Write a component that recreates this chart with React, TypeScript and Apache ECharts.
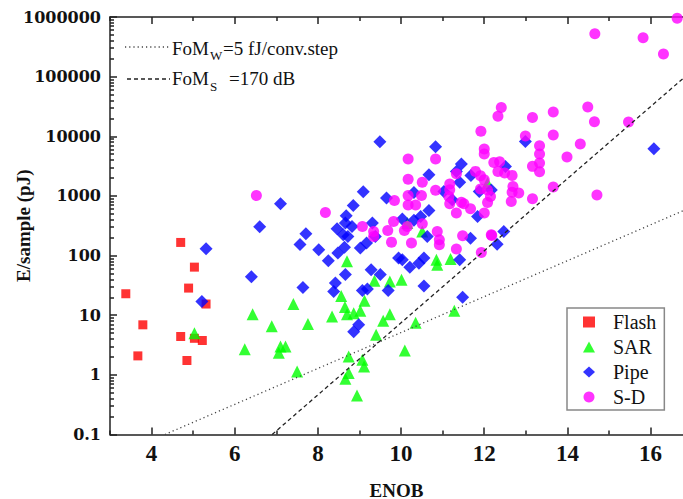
import React, { useEffect, useRef } from "react";
import * as echarts from "echarts";

// ENOB, E/sample (pJ)
const flashData: number[][] = [
  [3.38, 22.9], [3.79, 6.9], [3.67, 2.08], [4.7, 166], [5.03, 64], [4.89, 28.5],
  [5.31, 15.4], [4.7, 4.4], [5.03, 4.1], [5.22, 3.77], [4.85, 1.74],
];

const sarData: number[][] = [
  [5.03, 5.0], [6.43, 10.4], [6.89, 6.5], [6.24, 2.7], [7.06, 2.35], [7.1, 3.0], [7.22, 3.0],
  [7.5, 1.14], [7.41, 15.4], [7.76, 7.1], [8.34, 9.5], [8.56, 21], [8.65, 13.7], [8.7, 10.4],
  [8.86, 10.8], [9.02, 11.9], [9.12, 17.5], [9.36, 37.8], [9.73, 36.7], [10.01, 39.3],
  [9.57, 8.1], [9.73, 10.4], [9.4, 4.7], [10.35, 7.5], [10.09, 2.56], [8.74, 2.03],
  [9.07, 1.79], [9.11, 1.38], [8.74, 1.07], [8.66, 0.86], [8.94, 0.45], [8.7, 80],
  [10.85, 85], [10.87, 70], [11.19, 88], [11.28, 11.9], [10.51, 254], [10.15, 351], [12.08, 1650],
];

const pipeData: number[][] = [
  [5.31, 130], [5.21, 17], [6.4, 44], [6.6, 305], [7.1, 740], [7.71, 232], [7.57, 153],
  [8.02, 125], [8.25, 82], [7.64, 29.2], [8.42, 34.6], [8.38, 25], [8.66, 48],
  [9.49, 8100], [10.83, 6700], [9.09, 1175], [8.85, 692], [8.68, 465], [8.46, 281],
  [8.66, 351], [8.82, 308], [8.61, 223], [8.72, 209], [8.48, 110], [8.64, 138], [9.02, 134],
  [9.17, 162], [9.31, 351], [9.38, 209], [9.65, 922], [10.03, 409], [10.31, 1140],
  [10.67, 2270], [10.67, 571], [10.47, 453], [10.31, 390], [10.63, 209], [11.03, 1190],
  [9.28, 58], [9.5, 48], [9.94, 91], [10.03, 85], [10.21, 64], [10.43, 74], [10.55, 91],
  [9.07, 26], [9.19, 27.4], [9.69, 26], [8.98, 6.9], [8.86, 5.3], [10.55, 31], [11.41, 85],
  [11.67, 196], [11.84, 453], [12.31, 155], [11.48, 20], [16.08, 6200], [12.99, 8200],
  [11.45, 3430], [11.33, 2580], [11.41, 1690], [12.51, 3120], [11.68, 2210], [11.23, 864],
  [11.88, 1190], [12.17, 1260], [12.47, 254],
];

const sdData: number[][] = [
  [14.66, 525000], [15.82, 447000], [16.31, 240000], [16.64, 950000],
  [15.47, 17400], [14.49, 31000], [14.65, 17600], [13.66, 25600], [13.66, 10500],
  [14.31, 7430], [13.99, 4490], [14.71, 1035],
  [13.16, 20700], [12.99, 10100], [13.33, 6950], [13.33, 5040], [13.33, 3550],
  [13.16, 3130], [13.33, 2550], [13.66, 1410], [13.16, 898],
  [12.41, 30500], [12.33, 21600], [11.92, 12100], [12.0, 6120], [12.0, 5040],
  [12.23, 3650], [12.37, 3750], [12.33, 2580], [12.49, 2420], [12.67, 2210],
  [12.69, 1440], [12.67, 1150], [12.83, 1120], [12.65, 809], [12.18, 217],
  [11.79, 2580], [11.91, 2180], [12.0, 1870], [11.91, 1310], [12.08, 1260],
  [12.15, 980], [12.08, 779], [12.0, 517],
  [11.17, 1590], [11.17, 1270], [11.15, 980], [11.17, 740], [11.33, 2360],
  [11.45, 780], [11.51, 740], [11.67, 610], [11.33, 517],
  [11.33, 129], [11.48, 215], [11.93, 113], [12.17, 223],
  [6.52, 1020], [8.18, 529], [9.07, 308], [9.34, 254], [9.34, 209], [9.77, 168],
  [9.68, 264], [9.82, 373], [9.84, 841], [10.08, 264], [10.15, 308], [10.17, 4170],
  [10.17, 1900], [10.17, 1020], [10.17, 705], [10.35, 705], [10.49, 1020], [10.51, 1700],
  [10.83, 4170], [10.83, 1240], [10.51, 342], [10.25, 162], [10.87, 254], [10.92, 184],
  [10.92, 152],
];

// Figure-of-merit reference lines (end points)
const fomWLine: number[][] = [[4.32, 0.1], [16.78, 563]];
const fomSLine: number[][] = [[6.9, 0.1], [16.78, 93000]];

const seriesNames = ["Flash", "SAR", "Pipe", "S-D"];
const xMajorTicks = [4, 6, 8, 10, 12, 14, 16];
const xMinorTicks = [3, 5, 7, 9, 11, 13, 15];
const yDecadeExps = [-1, 0, 1, 2, 3, 4, 5];
const yMinorMultipliers = [2, 3, 4, 5, 6, 7, 8, 9];

const X_MIN = 3;
const X_MAX = 16.78;
const AXIS_COLOR = "#222";
const SERIF = "Liberation Serif";

const yMinorTickPositions = yDecadeExps.flatMap((d) =>
  yMinorMultipliers.map((m) => d + Math.log10(m))
);

export default function App() {
  const ref = useRef<HTMLDivElement>(null);

  useEffect(() => {
    if (!ref.current) return;
    const chart = echarts.init(ref.current, undefined, { renderer: "svg" });

    const lineStyle = { color: AXIS_COLOR, width: 1.5 };
    const baseX = {
      type: "value" as const,
      min: X_MIN,
      max: X_MAX,
      splitLine: { show: false },
    };

    const option: any = {
      animation: false,
      backgroundColor: "#ffffff",
      grid: { left: 110, right: 0, top: 17, bottom: 64.5, containLabel: false, outerBoundsMode: "none" },
      legend: {
        data: seriesNames,
        orient: "vertical",
        left: 567,
        top: 308,
        itemWidth: 12,
        itemHeight: 11,
        itemGap: 5,
        symbolKeepAspect: true,
        padding: [4, 8, 3, 16],
        borderColor: "#888",
        borderWidth: 1.5,
        backgroundColor: "#fff",
        selectedMode: false,
        textStyle: { fontFamily: SERIF, fontSize: 20, color: "#111", lineHeight: 20, padding: [0, 0, 0, 13] },
      },
      xAxis: [
        {
          ...baseX,
          position: "bottom",
          axisLine: { show: true, onZero: false, lineStyle },
          axisTick: { show: true, inside: true, length: 7, customValues: xMajorTicks, lineStyle },
          axisLabel: {
            customValues: xMajorTicks,
            fontFamily: SERIF,
            fontWeight: "bold",
            fontSize: 23,
            color: "#111",
            margin: 7,
          },
          name: "ENOB",
          nameLocation: "middle",
          nameGap: 46,
          nameMoveOverlap: false,
          nameTextStyle: { fontFamily: SERIF, fontWeight: "bold", fontSize: 19, color: "#111" },
        },
        {
          ...baseX,
          position: "bottom",
          axisLine: { show: false, onZero: false },
          axisTick: { show: true, inside: true, length: 4, customValues: xMinorTicks, lineStyle },
          axisLabel: { show: false },
        },
        {
          ...baseX,
          position: "top",
          axisLine: { show: true, onZero: false, lineStyle },
          axisTick: { show: true, inside: true, length: 7, customValues: xMajorTicks, lineStyle },
          axisLabel: { show: false },
        },
        {
          ...baseX,
          position: "top",
          axisLine: { show: false, onZero: false },
          axisTick: { show: true, inside: true, length: 4, customValues: xMinorTicks, lineStyle },
          axisLabel: { show: false },
        },
      ],
      yAxis: [
        {
          type: "log",
          logBase: 10,
          min: 0.1,
          max: 1000000,
          splitNumber: 7,
          position: "left",
          splitLine: { show: false },
          axisLine: { show: true, onZero: false, lineStyle },
          axisTick: { show: true, inside: true, length: 7, lineStyle },
          axisLabel: {
            fontFamily: "DejaVu Serif",
            fontWeight: "bold",
            fontSize: 16,
            color: "#111",
            margin: 9,
            formatter: (v: number) => String(Number(v.toPrecision(6))),
          },
          name: "E/sample (pJ)",
          nameLocation: "middle",
          nameGap: 77,
          nameMoveOverlap: false,
          nameTextStyle: { fontFamily: SERIF, fontWeight: "bold", fontSize: 19, color: "#111" },
        },
        {
          type: "value",
          min: -1,
          max: 6,
          position: "left",
          splitLine: { show: false },
          axisLine: { show: false, onZero: false },
          axisTick: { show: true, inside: true, length: 4, customValues: yMinorTickPositions, lineStyle },
          axisLabel: { show: false },
        },
      ],
      graphic: [
        {
          type: "line",
          shape: { x1: 125, y1: 47, x2: 170, y2: 47 },
          style: { stroke: "#444", lineWidth: 1.3, lineDash: [1.2, 3] },
        },
        { type: "text", x: 172, y: 48, style: { text: "FoM", fontSize: 19, fontFamily: SERIF, fill: "#111", verticalAlign: "middle" } },
        { type: "text", x: 210, y: 55, style: { text: "W", fontSize: 13, fontFamily: SERIF, fill: "#111", verticalAlign: "middle" } },
        { type: "text", x: 223, y: 48, style: { text: "=5 fJ/conv.step", fontSize: 19, fontFamily: SERIF, fill: "#111", verticalAlign: "middle" } },
        {
          type: "line",
          shape: { x1: 127, y1: 79, x2: 170, y2: 79 },
          style: { stroke: "#222", lineWidth: 1.3, lineDash: [4, 3] },
        },
        { type: "text", x: 172, y: 78, style: { text: "FoM", fontSize: 19, fontFamily: SERIF, fill: "#111", verticalAlign: "middle" } },
        { type: "text", x: 210, y: 86, style: { text: "S", fontSize: 13, fontFamily: SERIF, fill: "#111", verticalAlign: "middle" } },
        { type: "text", x: 229, y: 78, style: { text: "=170 dB", fontSize: 19, fontFamily: SERIF, fill: "#111", verticalAlign: "middle" } },
      ],
      series: [
        {
          name: "FoMW",
          type: "line",
          data: fomWLine,
          symbol: "none",
          silent: true,
          lineStyle: { color: "#444", width: 1.3, type: [1.2, 3] },
        },
        {
          name: "FoMS",
          type: "line",
          data: fomSLine,
          symbol: "none",
          silent: true,
          lineStyle: { color: "#222", width: 1.3, type: [4, 3] },
        },
        {
          name: "Flash",
          type: "scatter",
          data: flashData,
          symbol: "rect",
          symbolSize: 9,
          symbolKeepAspect: true,
          itemStyle: { color: "#ff0000" },
        },
        {
          name: "SAR",
          type: "scatter",
          data: sarData,
          symbol: "triangle",
          symbolSize: 12,
          symbolKeepAspect: true,
          itemStyle: { color: "#00ff00" },
        },
        {
          name: "Pipe",
          type: "scatter",
          data: pipeData,
          symbol: "diamond",
          symbolSize: 13,
          symbolKeepAspect: true,
          itemStyle: { color: "#0000ff" },
        },
        {
          name: "S-D",
          type: "scatter",
          data: sdData,
          symbol: "circle",
          symbolSize: 11,
          symbolKeepAspect: true,
          itemStyle: { color: "#ff00ff" },
        },
      ],
    };

    chart.setOption(option);
    return () => chart.dispose();
  }, []);

  return (
    <div
      ref={ref}
      style={{ position: "absolute", left: 0, top: 0, width: 683, height: 499, background: "#fff" }}
    />
  );
}
